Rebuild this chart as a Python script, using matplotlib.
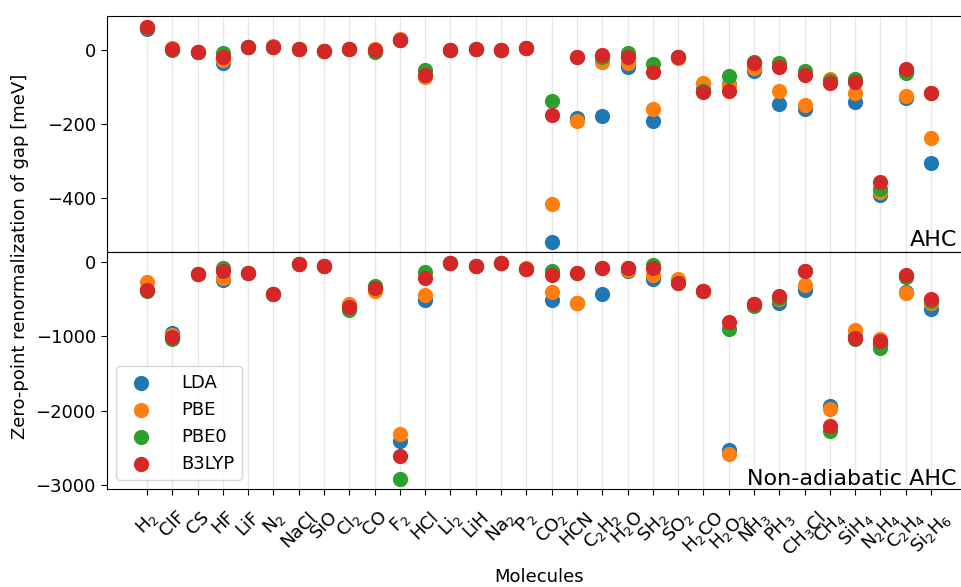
import matplotlib
matplotlib.use("Agg")
import matplotlib.pyplot as plt
import numpy as np

molecules = ['H$_2$', 'ClF', 'CS', 'HF', 'LiF', 'N$_2$', 'NaCl', 'SiO', 'Cl$_2$', 'CO',
             'F$_2$', 'HCl', 'Li$_2$', 'LiH', 'Na$_2$', 'P$_2$', 'CO$_2$', 'HCN',
             'C$_2$H$_2$', 'H$_2$O', 'SH$_2$', 'SO$_2$', 'H$_2$CO', 'H$_2$O$_2$', 'NH$_3$',
             'PH$_3$', 'CH$_3$Cl', 'CH$_4$', 'SiH$_4$', 'N$_2$H$_4$', 'C$_2$H$_4$', 'Si$_2$H$_6$']

functionals = ['LDA', 'PBE', 'PBE0', 'B3LYP']

# AHC (adiabatic) zero-point renormalization [meV]
ahc_lda = [57, 2, -5, -34, 7, 9, 2, -2, 3, -1, 27, -70, 0, 2, 0, 5, -520, -185, -180, -45,
           -191, -20, -105, -92, -56, -147, -160, -88, -142, -392, -131, -306]
ahc_pbe = [62, 5, -5, -27, 7, 12, 2, -2, 4, 4, 30, -72, 0, 2, 0, 6, -416, -191, -32, -36,
           -160, -22, -90, -95, -50, -110, -150, -79, -117, -385, -124, -239]
ahc_pbe0 = [60, 0, -5, -9, 7, 9, 2, -2, 3, -5, 27, -54, 0, 2, 0, 5, -137, -20, -20, -9,
            -39, -18, -110, -70, -32, -36, -57, -85, -78, -377, -61, -117]
ahc_b3lyp = [63, 2, -5, -18, 7, 9, 2, -2, 3, -1, 27, -68, 0, 2, 0, 5, -176, -20, -14, -20,
             -59, -18, -113, -111, -36, -47, -68, -90, -86, -358, -52, -117]

# Non-adiabatic AHC zero-point renormalization [meV]
na_lda = [-370, -950, -162, -239, -140, -432, -27, -58, -575, -340, -2414, -509, -14, -58, -5,
          -90, -509, -545, -423, -115, -230, -250, -385, -2536, -570, -545, -374, -1941,
          -1000, -1100, -405, -626]
na_pbe = [-261, -980, -162, -207, -140, -432, -27, -58, -560, -385, -2315, -446, -14, -58, -5,
          -80, -401, -545, -81, -100, -176, -230, -385, -2581, -565, -500, -311, -1973,
          -919, -1040, -410, -554]
na_pbe0 = [-385, -1030, -162, -85, -140, -432, -27, -58, -644, -320, -2919, -131, -14, -58, -5,
           -95, -117, -149, -81, -72, -41, -280, -385, -905, -590, -480, -117, -2270,
           -1040, -1150, -200, -520]
na_b3lyp = [-378, -1009, -162, -117, -140, -432, -27, -58, -600, -342, -2604, -207, -14, -58, -5,
            -95, -176, -149, -81, -72, -72, -284, -385, -802, -568, -455, -117, -2203,
            -1018, -1063, -176, -500]

colors = ['#1f77b4', '#ff7f0e', '#2ca02c', '#d62728']

W, H = 962, 587
fig = plt.figure(figsize=(W / 100, H / 100), dpi=100)

left = 107 / W
width = 864 / W
ax1 = fig.add_axes([left, 1 - 252 / H, width, 236 / H])
ax2 = fig.add_axes([left, 1 - 489 / H, width, 237 / H], sharex=ax1)

x = np.arange(len(molecules))
ahc = [ahc_lda, ahc_pbe, ahc_pbe0, ahc_b3lyp]
na = [na_lda, na_pbe, na_pbe0, na_b3lyp]

for vals, c, lab in zip(ahc, colors, functionals):
    ax1.scatter(x, vals, s=120, color=c, label=lab, zorder=3, linewidths=0)
for vals, c, lab in zip(na, colors, functionals):
    ax2.scatter(x, vals, s=120, color=c, label=lab, zorder=3, linewidths=0)

for ax in (ax1, ax2):
    ax.grid(axis='x', color='#b0b0b0', alpha=0.3, lw=1.0)
    ax.set_axisbelow(True)
    ax.spines['right'].set_visible(False)
    ax.tick_params(axis='y', labelsize=13, length=4.5)

ax1.set_xlim(-1.58, 32.58)
ax1.set_ylim(-547, 92)
ax2.set_ylim(-3055, 137)
ax1.set_yticks([0, -200, -400])
ax2.set_yticks([0, -1000, -2000, -3000])

ax1.tick_params(axis='x', length=0, labelbottom=False)
ax2.set_xticks(x)
ax2.set_xticklabels(molecules, rotation=45, fontsize=13)
ax2.tick_params(axis='x', length=4.5, pad=9)
ax2.set_xlabel('Molecules', fontsize=13, labelpad=5.5)

fig.text(957 / W, 1 - 246 / H, 'AHC', ha='right', va='baseline', fontsize=16)
fig.text(957 / W, 1 - 485 / H, 'Non-adiabatic AHC', ha='right', va='baseline', fontsize=16)

fig.text(20 / W, 1 - 256 / H, 'Zero-point renormalization of gap [meV]',
         rotation=90, ha='center', va='center', fontsize=13)

ax2.legend(loc='lower left', fontsize=13, handletextpad=1.2)

fig.savefig('out.png', dpi=100)
